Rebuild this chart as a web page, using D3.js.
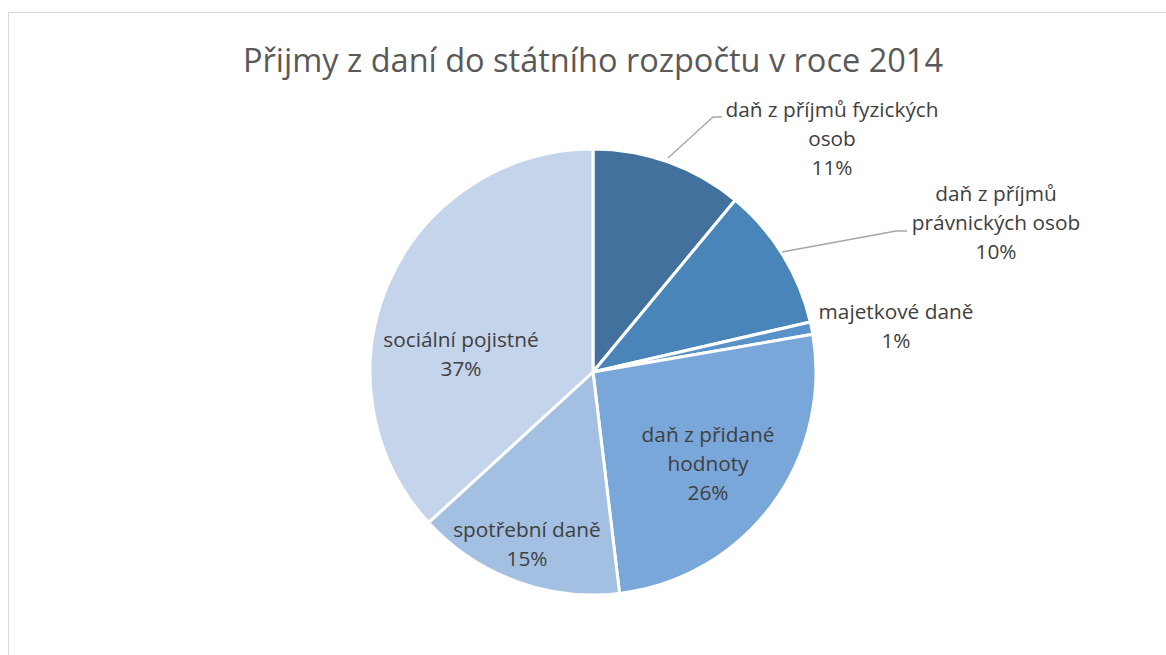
<!DOCTYPE html>
<html>
<head>
<meta charset="utf-8">
<script src="https://cdn.jsdelivr.net/npm/d3@7"></script>
<style>
  html, body { margin: 0; padding: 0; background: #fff; }
  svg { display: block; font-family: "Open Sans", sans-serif; }
</style>
</head>
<body>
<div id="canvas"></div>
<script>
"use strict";

/* === Data === */
let categories = [
  "daň z příjmů fyzických osob",
  "daň z příjmů právnických osob",
  "majetkové daně",
  "daň z přidané hodnoty",
  "spotřební daně",
  "sociální pojistné"
];
let shares = [11.0, 10.4, 0.9, 25.8, 15.1, 36.8];
// label text split into lines as in the picture
let labelLines = [
  ["daň z příjmů fyzických", "osob"],
  ["daň z příjmů", "právnických osob"],
  ["majetkové daně"],
  ["daň z přidané", "hodnoty"],
  ["spotřební daně"],
  ["sociální pojistné"]
];
let sliceColors = ["#41719c", "#4a85ba", "#5892c8", "#79a7d9", "#a3bfe2", "#c4d4ea"];

/* === Layout === */
let svgWidth = 1166;
let svgHeight = 655;
let cx = 593, cy = 372, radius = 223;

// label centre (first line) relative to pie centre, plus optional leader
let labelLayout = [
  { dx: 239, dy: -262, leader: [[75, -214], [120, -255], [129, -255]] },
  { dx: 403, dy: -178, leader: [[189, -120], [303, -141], [314, -141]] },
  { dx: 303, dy: -60 },
  { dx: 115, dy: 63 },
  { dx: -66, dy: 158 },
  { dx: -132, dy: -32 }
];

let svg = d3.select("#canvas")
  .append("svg")
  .attr("width", svgWidth)
  .attr("height", svgHeight);

/* === Chart border === */
svg.append("rect")
  .attr("x", 8.5)
  .attr("y", 12.5)
  .attr("width", 1200)
  .attr("height", 700)
  .attr("fill", "none")
  .attr("stroke", "#d9d9d9");

/* === Title === */
svg.append("text")
  .attr("x", cx)
  .attr("y", 72)
  .attr("text-anchor", "middle")
  .attr("font-size", "32.5px")
  .attr("fill", "#595959")
  .text("Přijmy z daní do státního rozpočtu v roce 2014");

/* === Pie === */
let total = d3.sum(shares);
let pie = d3.pie().sort(null).value(d => d);
let arc = d3.arc().innerRadius(0).outerRadius(radius);
let arcs = pie(shares);

let g = svg.append("g")
  .attr("transform", `translate(${cx}, ${cy})`);

g.selectAll("path.slice")
  .data(arcs)
  .enter()
  .append("path")
  .classed("slice", true)
  .attr("d", arc)
  .attr("fill", (d, i) => sliceColors[i])
  .attr("stroke", "#fff")
  .attr("stroke-width", 3)
  .attr("stroke-linejoin", "round");

/* === Leader lines === */
labelLayout.forEach(l => {
  if (!l.leader) return;
  g.append("path")
    .attr("d", d3.line()(l.leader))
    .attr("fill", "none")
    .attr("stroke", "#a6a6a6")
    .attr("stroke-width", 1.3);
});

/* === Labels === */
let fmt = d3.format(".0%");
let lineH = 29;

arcs.forEach((a, i) => {
  let l = labelLayout[i];
  let lines = labelLines[i].concat([fmt(a.value / total)]);
  let t = g.append("text")
    .attr("text-anchor", "middle")
    .attr("font-size", "20.8px")
    .attr("fill", "#404040");
  lines.forEach((s, k) => {
    t.append("tspan")
      .attr("x", l.dx)
      .attr("y", l.dy + k * lineH + 7)
      .text(s);
  });
});
</script>
</body>
</html>
